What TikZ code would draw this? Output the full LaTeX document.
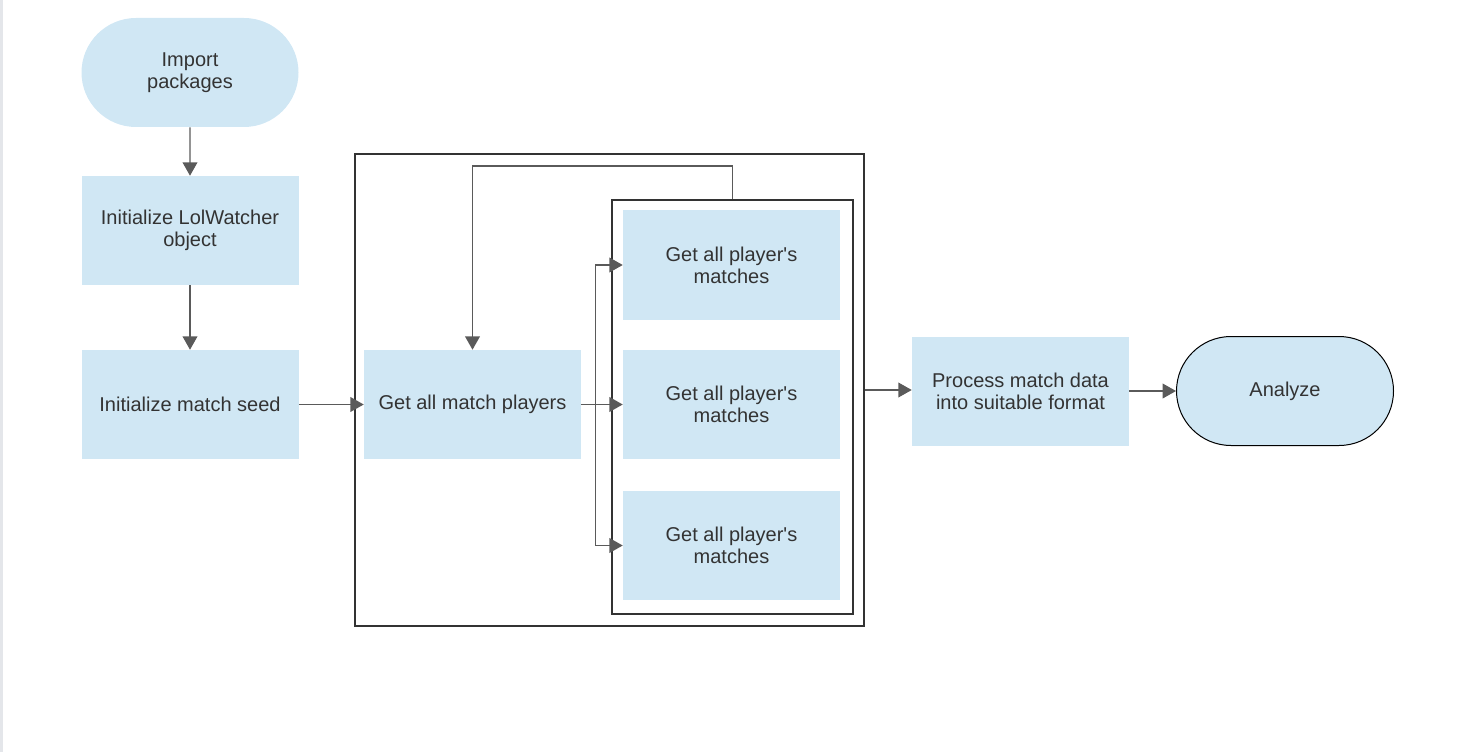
\documentclass[tikz,border=0pt]{standalone}
\usepackage{fontspec}
\setmainfont{Liberation Sans}
\usepackage{xcolor}
\usetikzlibrary{arrows.meta,shapes.misc,calc}

\definecolor{boxblue}{HTML}{D0E7F4}
\definecolor{txtgray}{HTML}{333333}
\definecolor{linegray}{HTML}{5A5A5A}
\definecolor{stripgray}{HTML}{E4E6EA}

\newcommand{\plq}{player\textquotesingle s}

\tikzset{
  stepbox/.style={rectangle, fill=boxblue, text=txtgray, align=center,
    minimum width=162.75pt, minimum height=81.75pt, inner sep=0pt,
    font=\fontsize{15}{16.5}\selectfont},
  termbox/.style={stepbox, rounded rectangle},
  frame/.style={draw=txtgray, line width=1.5pt, rectangle, inner sep=0pt},
  arr/.style={draw=linegray, line width=1.1pt,
    -{Triangle[length=10pt,width=11pt,fill=linegray]}},
  plain/.style={draw=linegray, line width=1.1pt}
}

\begin{document}
\begin{tikzpicture}[x=0.75pt,y=-0.75pt]
\useasboundingbox (0,0) rectangle (1458,752);
\fill [stripgray] (0,0) rectangle (3,752);

% left column
\node [termbox] (import) at (190,72.5) {Import\\packages};
\node [stepbox] (watcher) at (190,230.5) {Initialize LolWatcher\\object};
\node [stepbox] (seed) at (190,404.5) {Initialize match seed};

% frames
\node [frame, minimum width=381.75pt, minimum height=354pt] (outer) at (609.5,390) {};
\node [frame, minimum width=180.75pt, minimum height=310.5pt] (inner) at (732.5,407) {};

\node [stepbox] (players) at (472.5,404.5) {Get all match players};
\node [stepbox] (match1) at (731.5,265) {Get all \plq\\matches};
\node [stepbox] (match2) at (731.5,404.5) {Get all \plq\\matches};
\node [stepbox] (match3) at (731.5,545.5) {Get all \plq\\matches};

% right part
\node [stepbox] (process) at (1020.5,391) {Process match data\\into suitable format};
\node [termbox, draw=black, line width=0.75pt] (analyze) at (1285,391) {Analyze};

\draw [arr] (import) -- (watcher);
\draw [arr] (watcher) -- (seed);
\draw [arr] (seed) -- (players);

\coordinate (split) at (595.5,404.5);
\draw [plain] (players.east) -- (split);
\draw [arr] (split) |- (match1.west);
\draw [arr] (split) -- (match2.west);
\draw [arr] (split) |- (match3.west);

\coordinate (loop) at (472.5,166);
\draw [arr] (inner.north) |- (loop) -- (players.north);

\draw [arr] (outer.east) -- (outer.east -| process.west);
\draw [arr] (process) -- (analyze);
\end{tikzpicture}
\end{document}
